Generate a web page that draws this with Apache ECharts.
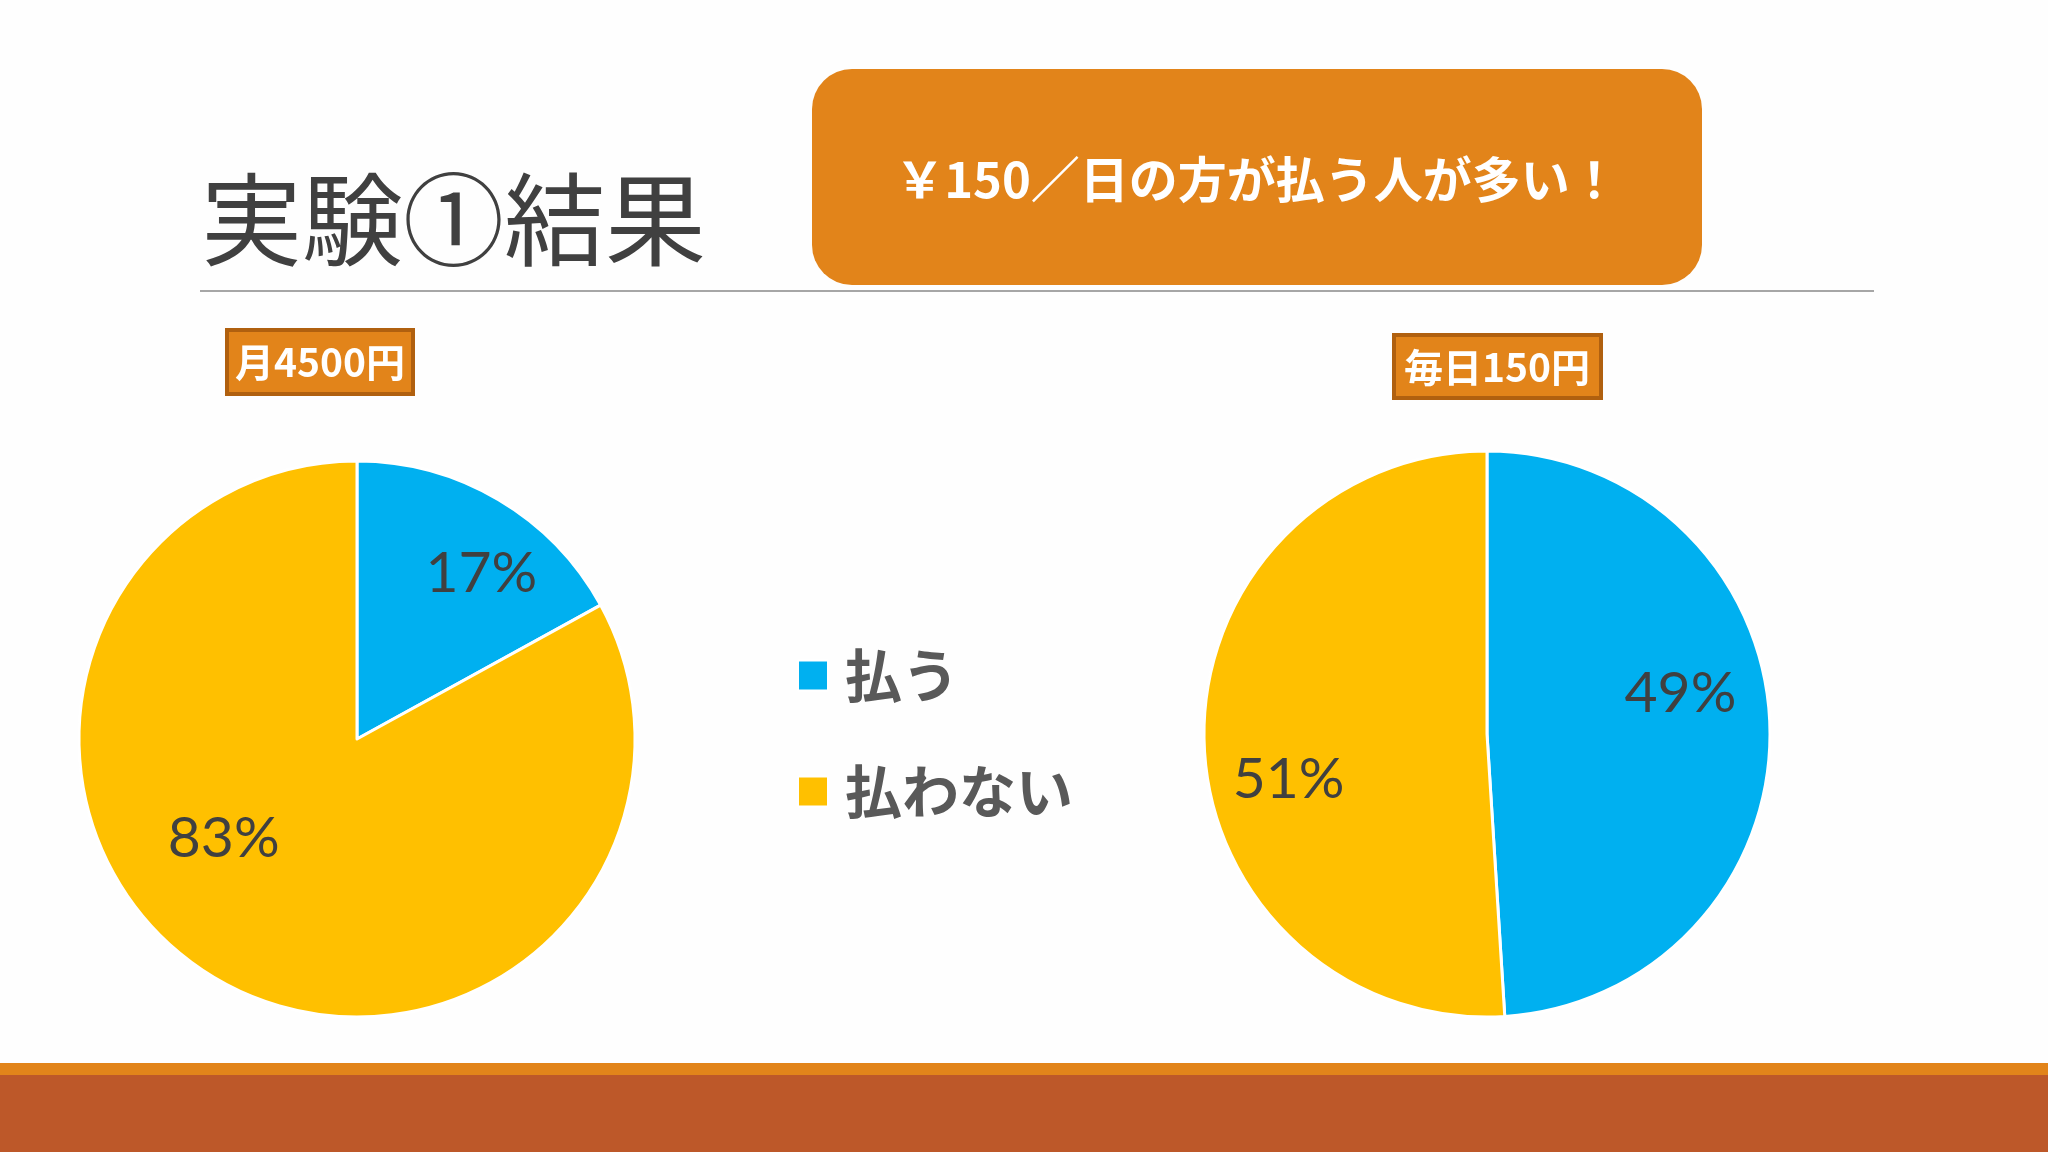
<!DOCTYPE html>
<html>
<head>
<meta charset="utf-8">
<title>実験①結果</title>
<script src="https://cdn.jsdelivr.net/npm/echarts@6/dist/echarts.min.js"></script>
<style>
html,body{margin:0;padding:0;background:#fefefe;}
#main{width:2048px;height:1152px;}
</style>
</head>
<body>
<div id="main"></div>
<script>
// 凡例の項目
var categories = ['払う', '払わない'];
// 月4500円 の結果 (%)
var monthlyValues = [17, 83];
// 毎日150円 の結果 (%)
var dailyValues = [49, 51];
var colors = ['#00b0f0', '#ffc000'];

var jp = '"Noto Sans CJK JP", sans-serif';

function pieData(values, shifts){
	var list = [];
	for (var i = 0; i < values.length; i++) {
		list.push({
			name: categories[i],
			value: values[i],
			label: {offset: shifts[i]}
		});
	}
	return list;
}

function pieSeries(values, center, radius, shifts){
	return {
		type: 'pie',
		center: center,
		radius: radius,
		startAngle: 90,
		clockwise: true,
		silent: true,
		itemStyle: {borderColor: '#ffffff', borderWidth: 3},
		label: {
			show: true,
			position: 'inside',
			formatter: '{c}%',
			fontFamily: 'Lato, "Open Sans", sans-serif',
			fontSize: 57,
			color: '#404040'
		},
		labelLine: {show: false},
		emphasis: {scale: false},
		data: pieData(values, shifts)
	};
}

var myChart = echarts.init(document.getElementById('main'));
var option = {
	backgroundColor: '#fefefe',
	color: colors,
	animation: false,
	title: {
		text: '実験①結果',
		left: 196,
		top: 164,
		textStyle: {fontFamily: jp, fontSize: 101, fontWeight: 'normal', color: '#404040'}
	},
	legend: {
		orient: 'vertical',
		left: 792,
		top: 642,
		icon: 'rect',
		itemWidth: 30,
		itemHeight: 30,
		itemGap: 59,
		selectedMode: false,
		data: categories,
		textStyle: {
			fontFamily: jp,
			fontSize: 57,
			lineHeight: 57,
			fontWeight: 'bold',
			color: '#595959',
			padding: [0, 0, 0, 12]
		}
	},
	graphic: [
		{type: 'rect', shape: {x: 0, y: 1063, width: 2048, height: 12}, style: {fill: '#e2841a'}},
		{type: 'rect', shape: {x: 0, y: 1075, width: 2048, height: 77}, style: {fill: '#bd5829'}},
		{type: 'line', shape: {x1: 200, y1: 291, x2: 1874, y2: 291}, style: {stroke: '#a6a6a6', lineWidth: 2}},
		{type: 'rect', shape: {x: 812, y: 69, width: 890, height: 216, r: 40}, style: {fill: '#e2841a'}},
		{type: 'text', x: 1257, y: 179, style: {
			text: '￥150／日の方が払う人が多い！', fill: '#ffffff',
			font: 'bold 49px "Noto Sans CJK JP"', align: 'center', verticalAlign: 'middle'}},
		{type: 'rect', shape: {x: 227, y: 330, width: 186, height: 64}, style: {fill: '#e2841a', stroke: '#b0600f', lineWidth: 4}},
		{type: 'text', x: 320, y: 362, style: {
			text: '月4500円', fill: '#ffffff',
			font: 'bold 39px "Noto Sans CJK JP"', align: 'center', verticalAlign: 'middle'}},
		{type: 'rect', shape: {x: 1394, y: 335, width: 207, height: 63}, style: {fill: '#e2841a', stroke: '#b0600f', lineWidth: 4}},
		{type: 'text', x: 1497, y: 367, style: {
			text: '毎日150円', fill: '#ffffff',
			font: 'bold 39px "Noto Sans CJK JP"', align: 'center', verticalAlign: 'middle'}}
	],
	series: [
		pieSeries(monthlyValues, [357, 739], 278, [[52, -43], [-61, -23]]),
		pieSeries(dailyValues, [1487, 734], 283, [[49, -36], [-54, 41]])
	]
};
myChart.setOption(option);
</script>
</body>
</html>
